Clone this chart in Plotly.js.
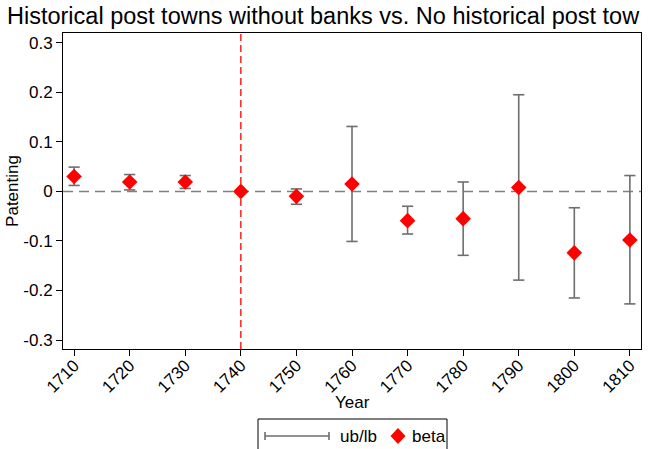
<!DOCTYPE html>
<html>
<head>
<meta charset="utf-8">
<script src="https://cdn.plot.ly/plotly-3.0.1.min.js"></script>
<style>html,body{margin:0;padding:0;background:#fff;}#chart{width:662px;height:449px;}</style>
</head>
<body>
<div id="chart"></div>
<script>
var years = [1710, 1720, 1730, 1740, 1750, 1760, 1770, 1780, 1790, 1800, 1810];
var beta  = [0.030, 0.019, 0.019, 0.000, -0.010, 0.015, -0.059, -0.055, 0.008, -0.124, -0.098];
var ub    = [0.049, 0.034, 0.032, null, 0.005, 0.131, -0.030, 0.019, 0.195, -0.033, 0.032];
var lb    = [0.012, 0.003, 0.006, null, -0.026, -0.101, -0.086, -0.129, -0.179, -0.215, -0.227];
var yTicks = [-0.3, -0.2, -0.1, 0, 0.1, 0.2, 0.3];
var yTickLabels = ['-0.3', '-0.2', '-0.1', '0', '0.1', '0.2', '0.3'];
var seriesNames = ['ub/lb', 'beta'];
var eventYear = 1740;
var titleText = 'Historical post towns without banks vs. No historical post tow';
var xTitle = 'Year';
var yTitle = 'Patenting';

var capX = [], capY = [];
for (var i = 0; i < years.length; i++) {
  capX.push(years[i], years[i], null);
  capY.push(lb[i], ub[i], null);
}

var gray = '#6e6e6e';
var red = '#ff0000';
var traces = [
  {
    x: capX, y: capY, type: 'scatter', mode: 'lines+markers', name: seriesNames[0],
    line: {color: gray, width: 1.6},
    marker: {symbol: 'line-ew', size: 8, line: {color: gray, width: 1.6}},
    connectgaps: false, hoverinfo: 'skip', showlegend: false
  },
  {
    x: years, y: beta, type: 'scatter', mode: 'markers', name: seriesNames[1],
    marker: {symbol: 'diamond', size: 12, color: red}, showlegend: false
  }
];

// plot area geometry (pixels) used to place the hand-drawn legend
var M = {l: 63, r: 21, t: 33, b: 100};
var W = 662, H = 449;
var pw = W - M.l - M.r, ph = H - M.t - M.b;
function px(x) { return (x - M.l) / pw; }
function py(y) { return (H - M.b - y) / ph; }
var legY = 436;

var layout = {
  width: W, height: H,
  margin: M,
  paper_bgcolor: '#fff', plot_bgcolor: '#fff',
  font: {family: 'Liberation Sans, Arial, sans-serif', color: '#000', size: 17},
  title: {text: titleText, x: 0, xref: 'container', xanchor: 'left', y: 0.964, yref: 'container', yanchor: 'middle', pad: {l: 7}, font: {size: 23.5, color: '#000'}},
  showlegend: false,
  xaxis: {
    range: [1708.0, 1812.0], tickmode: 'array', tickvals: years, ticktext: years.map(String),
    tickangle: -45, ticks: 'outside', ticklen: 6, tickcolor: '#000', tickwidth: 1,
    ticklabelstandoff: -7,
    showgrid: false, zeroline: false, showline: true, linecolor: '#000', linewidth: 1, mirror: true,
    automargin: false, tickfont: {size: 17}
  },
  yaxis: {
    range: [-0.318, 0.3196], tickmode: 'array', tickvals: yTicks, ticktext: yTickLabels,
    ticks: 'outside', ticklen: 6, tickcolor: '#000', tickwidth: 1,
    showgrid: false, zeroline: false, showline: true, linecolor: '#000', linewidth: 1, mirror: true,
    automargin: false,
    title: {text: yTitle, font: {size: 17}, standoff: 0}, tickfont: {size: 17}
  },
  shapes: [
    {type: 'line', xref: 'paper', x0: 0, x1: 1, yref: 'y', y0: 0, y1: 0, line: {color: '#808080', width: 1.5, dash: '10px,6px'}, layer: 'below'},
    {type: 'line', xref: 'x', x0: eventYear, x1: eventYear, yref: 'paper', y0: 0, y1: 1, line: {color: red, width: 1.3, dash: '7px,4px'}, layer: 'below'},
    // legend box
    {type: 'rect', xref: 'paper', yref: 'paper', x0: px(258), x1: px(447), y0: py(419), y1: py(475), line: {color: '#000', width: 1}, fillcolor: 'rgba(0,0,0,0)'},
    // legend: ub/lb capped line
    {type: 'line', xref: 'paper', yref: 'paper', x0: px(265), x1: px(329), y0: py(legY), y1: py(legY), line: {color: gray, width: 1.6}},
    {type: 'line', xref: 'paper', yref: 'paper', x0: px(265), x1: px(265), y0: py(legY - 4), y1: py(legY + 4), line: {color: gray, width: 1.6}},
    {type: 'line', xref: 'paper', yref: 'paper', x0: px(329), x1: px(329), y0: py(legY - 4), y1: py(legY + 4), line: {color: gray, width: 1.6}},
    // legend: beta diamond
    {type: 'path', xref: 'paper', yref: 'paper', xsizemode: 'pixel', ysizemode: 'pixel', xanchor: px(398), yanchor: py(legY),
     path: 'M0,8 L7.5,0 L0,-8 L-7.5,0 Z', fillcolor: red, line: {width: 0}}
  ],
  annotations: [
    {text: xTitle, xref: 'paper', yref: 'paper', x: 0.5, y: py(402), xanchor: 'center', yanchor: 'middle', showarrow: false, font: {size: 17}},
    {text: seriesNames[0], xref: 'paper', yref: 'paper', x: px(338), y: py(legY), xanchor: 'left', yanchor: 'middle', showarrow: false, font: {size: 17}},
    {text: seriesNames[1], xref: 'paper', yref: 'paper', x: px(410), y: py(legY), xanchor: 'left', yanchor: 'middle', showarrow: false, font: {size: 17}}
  ]
};

Plotly.newPlot('chart', traces, layout, {displayModeBar: false, staticPlot: true});
</script>
</body>
</html>
